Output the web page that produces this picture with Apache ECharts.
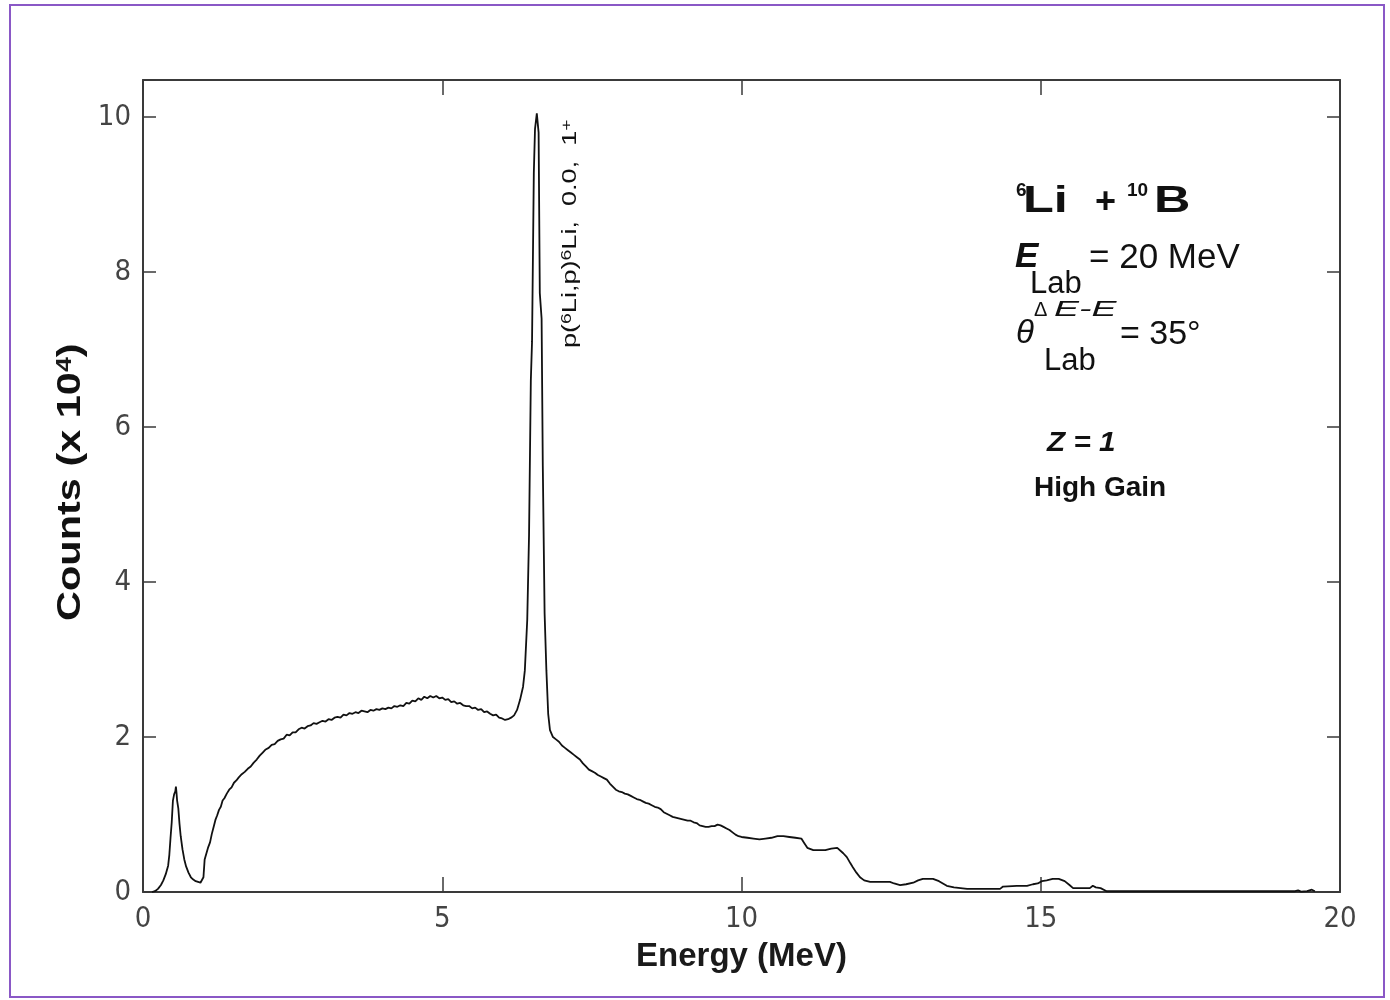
<!DOCTYPE html>
<html>
<head>
<meta charset="utf-8">
<title>6Li + 10B spectrum</title>
<script src="https://cdn.jsdelivr.net/npm/echarts@6/dist/echarts.min.js"></script>
<style>
  html, body { margin: 0; padding: 0; background: #fff; }
  #chart { width: 1390px; height: 1000px; }
</style>
</head>
<body>
<div id="chart"></div>
<script>
// Proton energy spectrum, Z = 1 high-gain channel
const energyMeV = [
  0.15, 0.20, 0.25, 0.30, 0.34, 0.38, 0.42, 0.44, 0.46, 0.48,
  0.50, 0.52, 0.54, 0.55, 0.56, 0.57, 0.59, 0.61, 0.63, 0.66,
  0.69, 0.72, 0.76, 0.80, 0.84, 0.88, 0.92, 0.96, 0.99, 1.01,
  1.03, 1.06, 1.09, 1.12, 1.15, 1.18, 1.21, 1.24, 1.27, 1.30,
  1.33, 1.36, 1.40, 1.44, 1.48, 1.52, 1.56, 1.60, 1.65, 1.70,
  1.75, 1.80, 1.85, 1.90, 1.95, 2.00, 2.05, 2.10, 2.15, 2.20,
  2.25, 2.30, 2.35, 2.40, 2.45, 2.50, 2.55, 2.60, 2.65, 2.70,
  2.75, 2.80, 2.85, 2.90, 2.95, 3.00, 3.05, 3.10, 3.15, 3.20,
  3.25, 3.30, 3.35, 3.40, 3.45, 3.50, 3.55, 3.60, 3.65, 3.70,
  3.75, 3.80, 3.85, 3.90, 3.95, 4.00, 4.05, 4.10, 4.15, 4.20,
  4.25, 4.30, 4.35, 4.40, 4.45, 4.50, 4.55, 4.60, 4.65, 4.70,
  4.75, 4.80, 4.85, 4.90, 4.95, 5.00, 5.05, 5.10, 5.15, 5.20,
  5.25, 5.30, 5.35, 5.40, 5.45, 5.50, 5.55, 5.60, 5.65, 5.70,
  5.75, 5.80, 5.85, 5.90, 5.95, 6.00, 6.05, 6.10, 6.15, 6.20,
  6.25, 6.30, 6.35, 6.38, 6.42, 6.45, 6.48, 6.50, 6.53, 6.55,
  6.58, 6.61, 6.63, 6.66, 6.68, 6.71, 6.74, 6.77, 6.80, 6.85,
  6.90, 6.95, 7.00, 7.05, 7.10, 7.15, 7.20, 7.25, 7.30, 7.35,
  7.40, 7.45, 7.50, 7.55, 7.60, 7.65, 7.70, 7.75, 7.80, 7.85,
  7.90, 7.95, 8.00, 8.05, 8.10, 8.15, 8.20, 8.25, 8.30, 8.35,
  8.40, 8.45, 8.50, 8.55, 8.60, 8.65, 8.70, 8.75, 8.80, 8.85,
  8.90, 8.95, 9.00, 9.05, 9.10, 9.15, 9.20, 9.25, 9.30, 9.35,
  9.40, 9.45, 9.50, 9.55, 9.60, 9.65, 9.70, 9.75, 9.80, 9.85,
  9.90, 9.95, 10.00, 10.10, 10.20, 10.30, 10.40, 10.50, 10.60, 10.70,
  10.80, 10.90, 11.00, 11.05, 11.10, 11.20, 11.30, 11.40, 11.50, 11.60,
  11.70, 11.76, 11.82, 11.86, 11.92, 11.98, 12.05, 12.15, 12.30, 12.48,
  12.55, 12.65, 12.75, 12.87, 12.95, 13.03, 13.20, 13.30, 13.43, 13.55,
  13.77, 14.00, 14.32, 14.37, 14.60, 14.77, 14.87, 14.95, 15.02, 15.10,
  15.20, 15.30, 15.40, 15.48, 15.54, 15.70, 15.82, 15.87, 15.92, 16.00,
  16.10, 16.50, 17.00, 17.50, 18.00, 18.50, 19.00, 19.25, 19.30, 19.35,
  19.45, 19.53, 19.58
];

const countsE4 = [
  0.00, 0.01, 0.04, 0.09, 0.15, 0.23, 0.34, 0.48, 0.70, 0.90,
  1.18, 1.26, 1.30, 1.36, 1.28, 1.18, 1.08, 0.88, 0.72, 0.55,
  0.42, 0.33, 0.25, 0.19, 0.16, 0.14, 0.13, 0.12, 0.14, 0.19,
  0.42, 0.50, 0.58, 0.64, 0.75, 0.84, 0.93, 0.99, 1.06, 1.10,
  1.18, 1.21, 1.27, 1.32, 1.35, 1.41, 1.44, 1.48, 1.52, 1.55,
  1.59, 1.62, 1.67, 1.71, 1.76, 1.80, 1.84, 1.86, 1.90, 1.91,
  1.95, 1.97, 1.98, 2.03, 2.02, 2.06, 2.06, 2.10, 2.12, 2.11,
  2.14, 2.15, 2.18, 2.17, 2.19, 2.21, 2.20, 2.23, 2.22, 2.25,
  2.26, 2.25, 2.29, 2.28, 2.31, 2.30, 2.32, 2.31, 2.34, 2.33,
  2.32, 2.35, 2.34, 2.36, 2.35, 2.37, 2.36, 2.38, 2.37, 2.40,
  2.39, 2.41, 2.40, 2.44, 2.43, 2.47, 2.46, 2.50, 2.48, 2.52,
  2.50, 2.53, 2.51, 2.53, 2.50, 2.51, 2.48, 2.49, 2.45, 2.46,
  2.43, 2.44, 2.41, 2.40, 2.40, 2.37, 2.38, 2.35, 2.36, 2.32,
  2.33, 2.30, 2.28, 2.29, 2.25, 2.24, 2.22, 2.23, 2.25, 2.28,
  2.35, 2.48, 2.65, 2.86, 3.51, 4.60, 6.60, 7.10, 9.28, 9.85,
  10.05, 9.80, 7.73, 7.40, 5.50, 3.60, 2.86, 2.30, 2.09, 2.00,
  1.97, 1.94, 1.89, 1.86, 1.83, 1.80, 1.77, 1.74, 1.71, 1.66,
  1.62, 1.58, 1.56, 1.54, 1.51, 1.49, 1.47, 1.45, 1.40, 1.36,
  1.32, 1.30, 1.29, 1.27, 1.26, 1.24, 1.22, 1.20, 1.19, 1.17,
  1.15, 1.14, 1.12, 1.10, 1.09, 1.07, 1.03, 1.01, 0.99, 0.97,
  0.96, 0.95, 0.94, 0.93, 0.92, 0.92, 0.90, 0.89, 0.86, 0.85,
  0.84, 0.84, 0.85, 0.85, 0.87, 0.86, 0.84, 0.82, 0.80, 0.77,
  0.74, 0.72, 0.71, 0.70, 0.69, 0.68, 0.69, 0.70, 0.72, 0.72,
  0.71, 0.70, 0.69, 0.63, 0.57, 0.54, 0.54, 0.54, 0.56, 0.57,
  0.50, 0.45, 0.37, 0.32, 0.25, 0.19, 0.15, 0.13, 0.13, 0.13,
  0.11, 0.09, 0.10, 0.12, 0.15, 0.17, 0.17, 0.14, 0.08, 0.06,
  0.04, 0.04, 0.04, 0.07, 0.08, 0.08, 0.10, 0.11, 0.14, 0.15,
  0.17, 0.17, 0.14, 0.09, 0.05, 0.05, 0.05, 0.08, 0.06, 0.05,
  0.01, 0.01, 0.01, 0.01, 0.01, 0.01, 0.01, 0.01, 0.02, 0.005,
  0.01, 0.03, 0.01
];

// Axis ranges and tick steps
const xRange = [0, 20];
const xStep = 5;
const yRange = [0, 10.48];
const yStep = 2;

const spectrum = energyMeV.map((e, i) => [e, countsE4[i]]);

const axisColor = '#3a3a3a';
const tickFont = "'DejaVu Sans Condensed', 'Liberation Sans Narrow', sans-serif";
const textFont = "'Liberation Sans', Arial, sans-serif";

function boxAxis(extra) {
  return Object.assign({
    type: 'value',
    axisLine: { show: true, onZero: false, lineStyle: { color: axisColor, width: 2 } },
    axisTick: { show: true, inside: true, length: 13, lineStyle: { color: axisColor, width: 1.5 } },
    splitLine: { show: false },
    axisLabel: { show: false }
  }, extra);
}

const yLabel = {
  show: true, margin: 12, fontSize: 29, color: '#444', fontFamily: tickFont,
  formatter: v => (Math.abs(v / yStep - Math.round(v / yStep)) < 1e-6 ? String(v) : '')
};
const xLabel = { show: true, margin: 13, fontSize: 29, color: '#444', fontFamily: tickFont };

function txt(text, x, y, size, opts) {
  const o = opts || {};
  return {
    type: 'text', x: x, y: y, silent: true,
    rotation: o.rotation || 0, scaleX: o.scaleX || 1, z: 50,
    style: {
      text: text, fill: '#111', fontSize: size,
      fontFamily: textFont, fontWeight: o.weight || 'normal',
      fontStyle: o.style || 'normal', align: 'left', verticalAlign: 'middle',
      rich: o.rich
    }
  };
}

const option = {
  backgroundColor: '#ffffff',
  animation: false,
  grid: { left: 143, right: 50, top: 80, bottom: 108, containLabel: false },
  xAxis: [
    boxAxis({
      min: xRange[0], max: xRange[1], interval: xStep, position: 'bottom',
      axisTick: { show: true, inside: true, length: 15, lineStyle: { color: axisColor, width: 1.5 } },
      axisLabel: xLabel,
      name: 'Energy (MeV)', nameLocation: 'middle', nameGap: 48,
      nameTextStyle: { fontSize: 33, fontWeight: 'bold', color: '#1a1a1a', fontFamily: textFont }
    }),
    boxAxis({
      min: xRange[0], max: xRange[1], interval: xStep, position: 'top',
      axisTick: { show: true, inside: true, length: 15, lineStyle: { color: axisColor, width: 1.5 } }
    })
  ],
  yAxis: [
    boxAxis({ min: yRange[0], max: yRange[1], interval: yStep, position: 'left', axisLabel: yLabel }),
    boxAxis({ min: yRange[0], max: yRange[1], interval: yStep, position: 'right' })
  ],
  series: [{
    type: 'line',
    data: spectrum,
    xAxisIndex: 0, yAxisIndex: 0,
    showSymbol: false, symbol: 'none',
    lineStyle: { color: '#111', width: 1.8 },
    z: 3
  }],
  graphic: [
    // outer frame
    { type: 'rect', silent: true, z: 100,
      shape: { x: 10, y: 5, width: 1374, height: 992 },
      style: { fill: 'none', stroke: '#8a58c6', lineWidth: 2 } },

    // y-axis title
    txt('Counts (x 10{sup|4})', 71, 621, 34, {
      rotation: Math.PI / 2, scaleX: 1.22, weight: 'bold',
      rich: { sup: { fontSize: 22, fontWeight: 'bold', fontFamily: textFont, fill: '#1a1a1a', verticalAlign: 'top', lineHeight: 22 } }
    }),

    // peak assignment
    txt('p({s|6}Li,p){s|6}Li,  0.0,  1{s|+}', 570, 348, 21, {
      rotation: Math.PI / 2, scaleX: 1.29,
      rich: { s: { fontSize: 15, fontFamily: textFont, fill: '#111', verticalAlign: 'top', lineHeight: 15 } }
    }),

    // reaction
    txt('6', 1016, 191, 19, { weight: 'bold' }),
    txt('Li', 1023, 202, 36, { weight: 'bold', scaleX: 1.4 }),
    txt('+', 1095, 203, 36, { weight: 'bold' }),
    txt('10', 1127, 191, 19, { weight: 'bold' }),
    txt('B', 1154, 202, 36, { weight: 'bold', scaleX: 1.4 }),

    // beam energy
    txt('E', 1015, 257, 35, { weight: 'bold', style: 'italic' }),
    txt('Lab', 1030, 284, 31),
    txt('= 20 MeV', 1089, 258, 35),

    // detector angle
    txt('\u03b8', 1016, 334, 33, { style: 'italic' }),
    txt('\u0394', 1034, 310, 20),
    txt('E-E', 1054, 310, 22, { style: 'italic', scaleX: 1.7 }),
    txt('Lab', 1044, 361, 31),
    txt('= 35\u00b0', 1120, 335, 34),

    // particle selection
    txt('Z = 1', 1047, 444, 27, { weight: 'bold', style: 'italic', scaleX: 1.1 }),
    txt('High Gain', 1034, 488, 28, { weight: 'bold' })
  ]
};

const chart = echarts.init(document.getElementById('chart'), null, { renderer: 'canvas' });
chart.setOption(option);
</script>
</body>
</html>
